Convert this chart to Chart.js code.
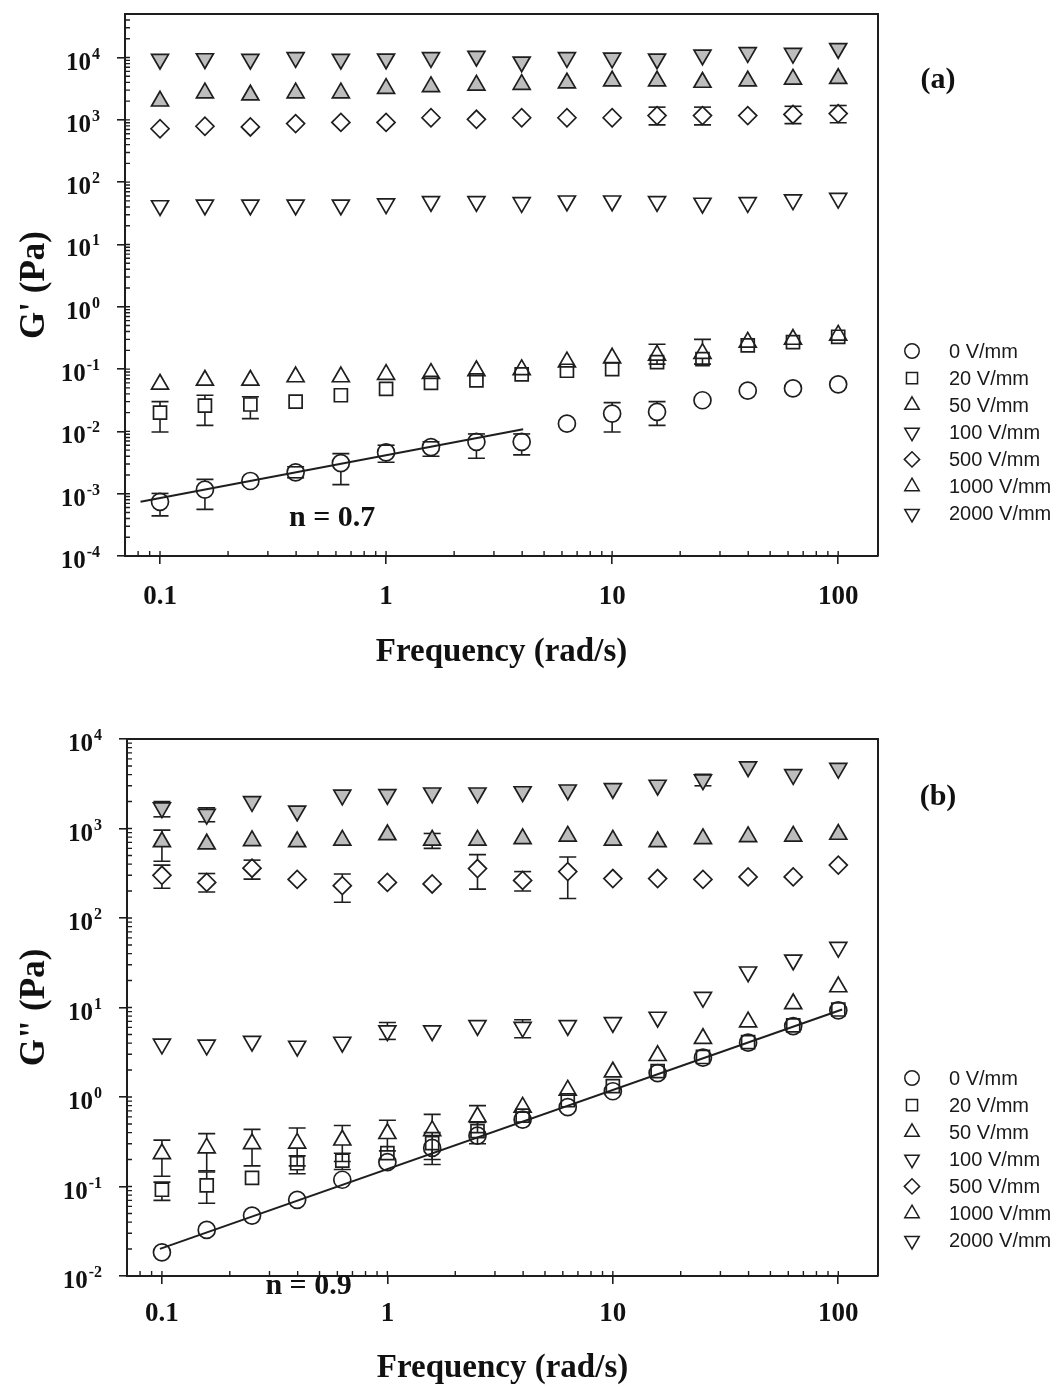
<!DOCTYPE html>
<html>
<head>
<meta charset="utf-8">
<title>G' and G'' versus frequency</title>
<script src="https://cdn.jsdelivr.net/npm/chart.js@4.4.1/dist/chart.umd.min.js"></script>
<style>
  html, body { margin:0; padding:0; background:#ffffff; }
  #page { position:relative; width:1060px; height:1388px; overflow:hidden; background:#fff; }
  .panel { position:absolute; left:0; width:1060px; height:694px; }
  canvas { display:block; }
</style>
</head>
<body>
<div id="page">
  <div class="panel" style="top:0px;"><canvas id="chartA" width="1060" height="694"></canvas></div>
  <div class="panel" style="top:694px;"><canvas id="chartB" width="1060" height="694"></canvas></div>
</div>
<script>
// ================= DATA =================
const frequency = [0.1, 0.158, 0.251, 0.398, 0.631, 1, 1.58, 2.51, 3.98, 6.31, 10, 15.8, 25.1, 39.8, 63.1, 100];
const fieldLabels = ['0 V/mm', '20 V/mm', '50 V/mm', '100 V/mm', '500 V/mm', '1000 V/mm', '2000 V/mm'];

const xTickValues = [0.1, 1, 10, 100];
const xTickLabels = ['0.1', '1', '10', '100'];
const yTickValuesA = [1e-4, 1e-3, 1e-2, 1e-1, 1, 10, 100, 1000, 10000];
const yTickExponentsA = ['-4', '-3', '-2', '-1', '0', '1', '2', '3', '4'];
const yTickValuesB = [1e-2, 1e-1, 1, 10, 100, 1000, 10000];
const yTickExponentsB = ['-2', '-1', '0', '1', '2', '3', '4'];
const yTickBase = '10';

// Panel (a): storage modulus G' (Pa)
const gStorage0    = [0.00074, 0.00116, 0.0016, 0.0022, 0.0031, 0.0046, 0.0056, 0.0068, 0.0068, 0.0133, 0.0193, 0.0206, 0.0316, 0.045, 0.049, 0.057];
const gStorage20   = [0.020, 0.026, 0.027, 0.030, 0.038, 0.048, 0.060, 0.066, 0.082, 0.094, 0.100, 0.129, 0.144, 0.24, 0.27, 0.33];
const gStorage50   = [0.057, 0.066, 0.066, 0.075, 0.075, 0.082, 0.085, 0.094, 0.098, 0.13, 0.15, 0.167, 0.178, 0.27, 0.30, 0.35];
const gStorage100  = [42, 43, 43, 43, 43, 45, 49, 49, 47, 50, 50, 49, 46, 47, 52, 55];
const gStorage500  = [720, 790, 770, 870, 910, 910, 1080, 1020, 1080, 1080, 1080, 1170, 1170, 1170, 1220, 1260];
const gStorage1000 = [2000, 2700, 2500, 2700, 2700, 3200, 3400, 3600, 3700, 3900, 4200, 4200, 4000, 4200, 4500, 4600];
const gStorage2000 = [9400, 9600, 9400, 10000, 9400, 9500, 10000, 10500, 8500, 10000, 9800, 9500, 11000, 12000, 11700, 14000];

const gStorage0Low    = [0.00044, 0.00056, null, 0.0018, 0.0014, 0.0032, 0.0040, 0.0037, 0.0042, null, 0.0098, 0.0125, null, null, null, null];
const gStorage0High   = [0.00101, 0.0017, null, 0.0027, 0.0044, 0.0060, 0.0068, 0.0091, 0.0091, null, 0.029, 0.030, null, null, null, null];
const gStorage20Low   = [0.0098, 0.0125, 0.016, null, null, null, null, null, null, null, null, null, null, null, null, null];
const gStorage20High  = [0.030, 0.038, 0.036, null, null, null, null, null, null, null, null, null, null, null, null, null];
const gStorage50Low   = [null, null, null, null, null, null, null, null, null, null, null, 0.12, 0.12, null, null, null];
const gStorage50High  = [null, null, null, null, null, null, null, null, null, null, null, 0.25, 0.30, null, null, null];
const gStorage500Low  = [null, null, null, null, null, null, null, null, null, null, null, 830, 830, null, 870, 900];
const gStorage500High = [null, null, null, null, null, null, null, null, null, null, null, 1600, 1600, null, 1650, 1700];

// Panel (b): loss modulus G'' (Pa)
const gLoss0    = [0.0184, 0.0327, 0.0473, 0.071, 0.119, 0.187, 0.27, 0.37, 0.56, 0.77, 1.16, 1.85, 2.75, 4.05, 6.2, 9.3];
const gLoss20   = [0.092, 0.103, 0.125, 0.182, 0.195, 0.236, 0.305, 0.416, 0.62, 0.92, 1.32, 1.95, 2.8, 4.1, 6.3, 9.5];
const gLoss50   = [0.232, 0.27, 0.30, 0.305, 0.33, 0.39, 0.42, 0.60, 0.77, 1.19, 1.9, 2.9, 4.5, 6.9, 11, 17];
const gLoss100  = [3.9, 3.8, 4.2, 3.7, 4.1, 5.5, 5.5, 6.3, 6.0, 6.3, 6.8, 7.8, 13, 25, 34, 47];
const gLoss500  = [300, 250, 360, 270, 230, 250, 240, 357, 263, 330, 276, 276, 270, 288, 288, 390];
const gLoss1000 = [710, 670, 730, 710, 740, 850, 740, 740, 770, 820, 740, 710, 770, 810, 820, 860];
const gLoss2000 = [1700, 1440, 2000, 1570, 2360, 2400, 2500, 2500, 2580, 2700, 2800, 3050, 3500, 4900, 4000, 4700];

const gLoss20Low    = [0.070, 0.065, null, 0.139, 0.155, null, 0.176, 0.30, null, null, null, null, null, null, null, null];
const gLoss20High   = [0.112, 0.145, null, 0.22, 0.235, null, 0.40, 0.52, null, null, null, null, null, null, null, null];
const gLoss50Low    = [0.13, 0.15, 0.17, 0.17, 0.19, 0.25, 0.20, 0.40, null, null, null, null, null, null, null, null];
const gLoss50High   = [0.33, 0.39, 0.435, 0.45, 0.48, 0.55, 0.64, 0.80, null, null, null, null, null, null, null, null];
const gLoss100Low   = [null, null, null, null, null, 4.4, null, null, 4.6, null, null, null, null, null, null, null];
const gLoss100High  = [null, null, null, null, null, 6.8, null, null, 7.3, null, null, null, null, null, null, null];
const gLoss500Low   = [215, 195, 272, null, 150, null, null, 210, 200, 165, null, null, null, null, null, null];
const gLoss500High  = [390, 314, 443, null, 310, null, null, 510, 330, 480, null, null, null, null, null, null];
const gLoss1000Low  = [430, null, null, null, null, null, 600, null, null, null, null, null, null, null, null, null];
const gLoss1000High = [960, null, null, null, null, null, 880, null, null, null, null, null, null, null, null, null];
const gLoss2000Low  = [1350, 1190, null, null, null, null, null, null, null, null, null, null, 3000, null, null, null];
const gLoss2000High = [2000, 1700, null, null, null, null, null, null, null, null, null, null, 4030, null, null, null];

// Power-law fit lines (end points)
const fitAx = [0.082, 4.04];
const fitAy = [0.00074, 0.0108];
const fitBx = [0.098, 104];
const fitBy = [0.0201, 9.5];

// ================= STYLE =================
const SERIF = "'Liberation Serif', 'Times New Roman', Times, serif";
const SANS = "'Liberation Sans', Arial, Helvetica, sans-serif";
const INK = '#1e1e1e';
const markerStyles = [
  { style: 'circle',   rotation: 0,   radius: 8.5, filled: false },
  { style: 'rect',     rotation: 0,   radius: 9.2, filled: false },
  { style: 'triangle', rotation: 0,   radius: 9.8, filled: false },
  { style: 'triangle', rotation: 180, radius: 9.8, filled: false },
  { style: 'rectRot',  rotation: 0,   radius: 9.0, filled: false },
  { style: 'triangle', rotation: 0,   radius: 9.8, filled: true  },
  { style: 'triangle', rotation: 180, radius: 9.8, filled: true  }
];

function drawMarker(ctx, style, rotDeg, x, y, r) {
  let a = rotDeg * Math.PI / 180;
  ctx.beginPath();
  if (style === 'circle') {
    ctx.arc(x, y, r, 0, Math.PI * 2);
  } else if (style === 'rect') {
    const s = r * Math.SQRT1_2;
    ctx.rect(x - s, y - s, 2 * s, 2 * s);
  } else if (style === 'rectRot') {
    ctx.moveTo(x - r, y); ctx.lineTo(x, y - r); ctx.lineTo(x + r, y); ctx.lineTo(x, y + r); ctx.closePath();
  } else {
    ctx.moveTo(x + Math.sin(a) * r, y - Math.cos(a) * r);
    a += 2 * Math.PI / 3;
    ctx.lineTo(x + Math.sin(a) * r, y - Math.cos(a) * r);
    a += 2 * Math.PI / 3;
    ctx.lineTo(x + Math.sin(a) * r, y - Math.cos(a) * r);
    ctx.closePath();
  }
  ctx.stroke();
}

// distance from the data point to the marker edge (up / down)
function markerEdge(ds, up) {
  const r = ds.pointRadius;
  if (ds.pointStyle === 'rect') return r * Math.SQRT1_2;
  if (ds.pointStyle === 'triangle') {
    const pointUp = (ds.pointRotation || 0) === 0;
    return (pointUp === up) ? r : r * 0.5;
  }
  return r;
}

const decorPlugin = {
  id: 'decor',
  beforeDatasetsDraw(chart) {
    const ctx = chart.ctx, area = chart.chartArea, ys = chart.scales.y;
    ctx.save();
    ctx.beginPath();
    ctx.rect(area.left, area.top, area.right - area.left, area.bottom - area.top);
    ctx.clip();
    ctx.strokeStyle = INK;
    ctx.lineWidth = 1.6;
    chart.data.datasets.forEach((ds, di) => {
      if (!ds.errLow && !ds.errHigh) return;
      const meta = chart.getDatasetMeta(di);
      meta.data.forEach((pt, i) => {
        const pairs = [[ds.errHigh ? ds.errHigh[i] : null, true], [ds.errLow ? ds.errLow[i] : null, false]];
        pairs.forEach(([v, up]) => {
          if (v === null || v === undefined) return;
          const yv = ys.getPixelForValue(v);
          const edge = markerEdge(ds, up);
          const start = up ? pt.y - edge : pt.y + edge;
          ctx.beginPath();
          if ((up && yv < start) || (!up && yv > start)) {
            ctx.moveTo(pt.x, start);
            ctx.lineTo(pt.x, yv);
          }
          ctx.moveTo(pt.x - 8.5, yv);
          ctx.lineTo(pt.x + 8.5, yv);
          ctx.stroke();
        });
      });
    });
    ctx.restore();
  },
  afterDraw(chart, args, opts) {
    const ctx = chart.ctx, area = chart.chartArea;
    const xs = chart.scales.x, ys = chart.scales.y;
    ctx.save();
    // frame (top and right sides)
    ctx.strokeStyle = INK;
    ctx.lineWidth = 2;
    ctx.beginPath();
    ctx.moveTo(area.left, area.top);
    ctx.lineTo(area.right, area.top);
    ctx.lineTo(area.right, area.bottom);
    ctx.stroke();
    // inward minor ticks
    ctx.lineWidth = 1.4;
    const minor = (min, max) => {
      const out = [];
      for (let e = Math.floor(Math.log10(min)); e <= Math.ceil(Math.log10(max)); e++) {
        for (let m = 1; m <= 9; m++) {
          const v = m * Math.pow(10, e);
          if (v > min * 1.0001 && v < max * 0.9999) out.push(v);
        }
      }
      return out;
    };
    ctx.beginPath();
    minor(xs.min, xs.max).forEach(v => {
      const px = xs.getPixelForValue(v);
      ctx.moveTo(px, area.bottom);
      ctx.lineTo(px, area.bottom - 5);
    });
    minor(ys.min, ys.max).forEach(v => {
      const py = ys.getPixelForValue(v);
      ctx.moveTo(area.left, py);
      ctx.lineTo(area.left + 5, py);
    });
    ctx.stroke();
    // y tick labels: "10" with a raised exponent
    const yl = opts.yLabels;
    if (yl) {
      ctx.fillStyle = '#111';
      ctx.textBaseline = 'alphabetic';
      ctx.textAlign = 'right';
      const right = area.left - yl.gap;
      yl.values.forEach((v, i) => {
        const py = ys.getPixelForValue(v);
        ctx.font = yl.expFont;
        const ew = ctx.measureText(yl.exps[i]).width;
        ctx.fillText(yl.exps[i], right, py + yl.expDy);
        ctx.font = yl.baseFont;
        ctx.fillText(yTickBase, right - ew - 1, py + yl.baseDy);
      });
    }
    // texts
    ctx.fillStyle = '#111';
    ctx.textAlign = 'center';
    ctx.textBaseline = 'middle';
    (opts.texts || []).forEach(t => {
      ctx.font = t.font;
      const x = t.dataX !== undefined ? xs.getPixelForValue(t.dataX) : t.px;
      const y = t.dataY !== undefined ? ys.getPixelForValue(t.dataY) : t.py;
      ctx.fillText(t.text, x, y);
    });
    // legend
    const lg = opts.legend;
    if (lg) {
      let k = 0;
      ctx.font = lg.font;
      ctx.textAlign = 'left';
      ctx.textBaseline = 'middle';
      chart.data.datasets.forEach(ds => {
        if (ds.isFit) return;
        const y = lg.y0 + k * lg.dy;
        ctx.strokeStyle = INK;
        ctx.lineWidth = 1.5;
        drawMarker(ctx, ds.pointStyle, ds.pointRotation || 0, lg.x, y, ds.pointRadius * lg.scale);
        ctx.fillStyle = '#1a1a1a';
        ctx.fillText(ds.label, lg.textX, y + 1);
        k++;
      });
    }
    ctx.restore();
  }
};

function buildDatasets(values, lows, highs, fitX, fitY) {
  const sets = values.map((vals, s) => ({
    type: 'scatter',
    label: fieldLabels[s],
    data: frequency.map((f, i) => ({ x: f, y: vals[i] })),
    errLow: lows[s],
    errHigh: highs[s],
    pointStyle: markerStyles[s].style,
    pointRotation: markerStyles[s].rotation,
    pointRadius: markerStyles[s].radius,
    pointHoverRadius: markerStyles[s].radius,
    pointBorderWidth: 1.7,
    pointBorderColor: INK,
    pointBackgroundColor: markerStyles[s].filled ? '#bdbdbd' : 'rgba(255,255,255,0)',
    showLine: false
  }));
  sets.push({
    type: 'scatter',
    label: 'fit',
    isFit: true,
    data: fitX.map((x, i) => ({ x: x, y: fitY[i] })),
    showLine: true,
    borderColor: INK,
    borderWidth: 2,
    pointRadius: 0,
    fill: false
  });
  return sets;
}

function makeOptions(p) {
  return {
    responsive: false,
    animation: false,
    devicePixelRatio: 1,
    events: [],
    layout: { padding: { top: p.top, right: 1060 - 878, left: 0, bottom: 0 } },
    plugins: {
      legend: { display: false },
      tooltip: { enabled: false },
      decor: {
        texts: p.texts,
        legend: p.legend,
        yLabels: {
          values: p.yTicks, exps: p.yExps, gap: 25,
          baseFont: 'bold 25px ' + SERIF, expFont: 'bold 16px ' + SERIF,
          baseDy: 12, expDy: 1
        }
      }
    },
    scales: {
      x: {
        type: 'logarithmic',
        position: 'bottom',
        min: 0.07,
        max: 150,
        afterFit: s => { s.height = p.xAxisHeight; s.paddingLeft = 0; s.paddingRight = 0; },
        afterBuildTicks: s => { s.ticks = xTickValues.map(v => ({ value: v, major: true })); },
        grid: { drawOnChartArea: false, drawTicks: true, tickLength: 8, color: INK, lineWidth: 1.6 },
        border: { display: true, color: INK, width: 2 },
        ticks: {
          autoSkip: false, maxRotation: 0, minRotation: 0, padding: p.xTickPad, color: '#111',
          font: { family: SERIF, size: 27, weight: 'bold' },
          callback: (v, i) => xTickLabels[i]
        },
        title: {
          display: true, text: 'Frequency (rad/s)', color: '#111',
          font: { family: SERIF, size: 33, weight: 'bold' },
          padding: { top: 0, bottom: p.xTitlePad }
        }
      },
      y: {
        type: 'logarithmic',
        position: 'left',
        min: p.yMin,
        max: p.yMax,
        afterFit: s => { s.width = p.yAxisWidth; s.paddingTop = 0; s.paddingBottom = 0; },
        afterBuildTicks: s => { s.ticks = p.yTicks.map(v => ({ value: v, major: true })); },
        grid: { drawOnChartArea: false, drawTicks: true, tickLength: 8, color: INK, lineWidth: 1.6 },
        border: { display: true, color: INK, width: 2 },
        ticks: { display: false, autoSkip: false },
        title: {
          display: true, text: p.yTitle, color: '#111',
          font: { family: SERIF, size: 35, weight: 'bold' },
          padding: { top: 14, bottom: 0 }
        }
      }
    }
  };
}

new Chart(document.getElementById('chartA'), {
  type: 'scatter',
  data: {
    datasets: buildDatasets(
      [gStorage0, gStorage20, gStorage50, gStorage100, gStorage500, gStorage1000, gStorage2000],
      [gStorage0Low, gStorage20Low, gStorage50Low, null, gStorage500Low, null, null],
      [gStorage0High, gStorage20High, gStorage50High, null, gStorage500High, null, null],
      fitAx, fitAy)
  },
  options: makeOptions({
    top: 14, xAxisHeight: 138, yAxisWidth: 125, xTickPad: 17, xTitlePad: 22,
    yMin: 1e-4, yMax: 5e4, yTicks: yTickValuesA, yExps: yTickExponentsA, yTitle: "G' (Pa)",
    texts: [
      { text: 'n = 0.7', dataX: 0.577, dataY: 4.06e-4, font: 'bold 30px ' + SERIF },
      { text: '(a)', px: 938, py: 80, font: 'bold 30px ' + SERIF }
    ],
    legend: { x: 912, textX: 949, y0: 351, dy: 27.1, scale: 0.85, font: '20px ' + SANS }
  }),
  plugins: [decorPlugin]
});

new Chart(document.getElementById('chartB'), {
  type: 'scatter',
  data: {
    datasets: buildDatasets(
      [gLoss0, gLoss20, gLoss50, gLoss100, gLoss500, gLoss1000, gLoss2000],
      [null, gLoss20Low, gLoss50Low, gLoss100Low, gLoss500Low, gLoss1000Low, gLoss2000Low],
      [null, gLoss20High, gLoss50High, gLoss100High, gLoss500High, gLoss1000High, gLoss2000High],
      fitBx, fitBy)
  },
  options: makeOptions({
    top: 45, xAxisHeight: 112, yAxisWidth: 127, xTickPad: 14, xTitlePad: 0,
    yMin: 1e-2, yMax: 1e4, yTicks: yTickValuesB, yExps: yTickExponentsB, yTitle: 'G" (Pa)',
    texts: [
      { text: 'n = 0.9', dataX: 0.447, dataY: 0.0076, font: 'bold 30px ' + SERIF },
      { text: '(b)', px: 938, py: 103, font: 'bold 30px ' + SERIF }
    ],
    legend: { x: 912, textX: 949, y0: 384, dy: 27.1, scale: 0.85, font: '20px ' + SANS }
  }),
  plugins: [decorPlugin]
});
</script>
</body>
</html>
